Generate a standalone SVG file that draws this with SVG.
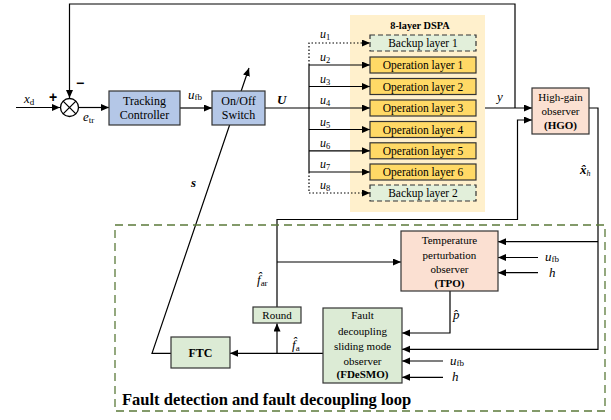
<svg xmlns="http://www.w3.org/2000/svg" width="611" height="420" viewBox="0 0 611 420">
<defs>
<marker id="ah" markerUnits="userSpaceOnUse" markerWidth="9" markerHeight="8" refX="8" refY="3.5" orient="auto">
<path d="M0,0 L8,3.5 L0,7 z" fill="#000"/>
</marker>
</defs>
<style>
.ln{fill:none;stroke:#000;stroke-width:1.2}
.ar{marker-end:url(#ah)}
.dot{stroke-dasharray:1.5,2}
.box{stroke:#333;stroke-width:1.2}
.blue{fill:#B4C7E7}
.gold{fill:#FFD966}
.bk{fill:#E2EFDA;stroke-dasharray:5,3}
.peach{fill:#FBE0D2}
.grn{fill:#DCEBD5}
text{font-family:"Liberation Serif","Times New Roman",serif;fill:#000}
.t{font-size:12px;text-anchor:middle}
.s{font-size:11px;text-anchor:middle}
.b{font-weight:bold}
.i{font-style:italic;font-size:13px}
.sub{font-size:9px;font-style:normal}
.u{font-style:italic;font-size:12px}
.us{font-size:8.5px;font-style:normal}
.sym{font-family:"Liberation Sans",Arial,sans-serif;font-weight:bold;font-size:14px}
</style>

<g id="dspa">
<rect x="350" y="15" width="135" height="197" fill="#FFF0CC"/>
<text x="420" y="28.5" class="b" style="font-size:10.3px;text-anchor:middle">8-layer DSPA</text>
</g>

<g id="connectors">
<path class="ln ar" d="M16,107.5 H60"/>
<path class="ln ar" d="M515,108 V4 H69.5 V98"/>
<path class="ln ar" d="M78.5,107.5 H109"/>
<path class="ln ar" d="M180,108 H212"/>
<path class="ln" d="M265,108 H309"/>
<path class="ln" d="M309,65 V172"/>
<path class="ln ar dot" d="M309,65 V43 H370"/>
<path class="ln ar dot" d="M309,172 V193 H370"/>
<path class="ln ar" d="M309,65 H370"/>
<path class="ln ar" d="M309,86.5 H370"/>
<path class="ln ar" d="M309,108 H370"/>
<path class="ln ar" d="M309,129.5 H370"/>
<path class="ln ar" d="M309,150.8 H370"/>
<path class="ln ar" d="M309,172 H370"/>
<path class="ln ar" d="M485,108 H532"/>
<path class="ln ar" d="M277,307 V219.5 H517.5 V120 H532"/>
<path class="ln ar" d="M277,262 H401"/>
<path class="ln ar" d="M589,108 H598 V349.3 H402"/>
<path class="ln ar" d="M598,241.7 H498"/>
<path class="ln ar" d="M538,257.5 H498"/>
<path class="ln ar" d="M538,272.7 H498"/>
<path class="ln ar" d="M450,291 V333 H402"/>
<path class="ln ar" d="M443,361 H402"/>
<path class="ln ar" d="M443,377.3 H402"/>
<path class="ln ar" d="M323,353.3 H230"/>
<path class="ln ar" d="M277,353.3 V323.5"/>
<path class="ln ar" d="M171,353.3 H152 L249,68"/>
</g>

<g id="sum">
<circle cx="69.5" cy="107.5" r="9" fill="#fff" stroke="#000" stroke-width="1.3"/>
<path d="M63.1,101.1 L75.9,113.9 M75.9,101.1 L63.1,113.9" stroke="#000" stroke-width="1.3"/>
<text x="49" y="102" class="sym">+</text>
<text x="76" y="88" class="sym">−</text>
</g>

<g id="tracking">
<rect x="109" y="91" width="71" height="34" class="box blue"/>
<text x="144.5" y="104.5" class="t">Tracking</text>
<text x="144.5" y="119" class="t">Controller</text>
</g>

<g id="switch">
<rect x="212" y="91" width="53" height="34" class="box blue"/>
<text x="238.5" y="104.5" class="t">On/Off</text>
<text x="238.5" y="119" class="t">Switch</text>
</g>

<g id="layers">
<rect x="370" y="35" width="106" height="16" class="box bk"/>
<text x="423" y="47" class="t" style="font-size:11.5px">Backup layer 1</text>
<rect x="370" y="57" width="106" height="16" class="box gold"/>
<text x="423" y="69" class="t" style="font-size:11.5px">Operation layer 1</text>
<rect x="370" y="78.5" width="106" height="16" class="box gold"/>
<text x="423" y="90.5" class="t" style="font-size:11.5px">Operation layer 2</text>
<rect x="370" y="100" width="106" height="16" class="box gold"/>
<text x="423" y="112" class="t" style="font-size:11.5px">Operation layer 3</text>
<rect x="370" y="121.5" width="106" height="16" class="box gold"/>
<text x="423" y="133.5" class="t" style="font-size:11.5px">Operation layer 4</text>
<rect x="370" y="142.8" width="106" height="16" class="box gold"/>
<text x="423" y="154.8" class="t" style="font-size:11.5px">Operation layer 5</text>
<rect x="370" y="164" width="106" height="16" class="box gold"/>
<text x="423" y="176" class="t" style="font-size:11.5px">Operation layer 6</text>
<rect x="370" y="185" width="106" height="16" class="box bk"/>
<text x="423" y="197" class="t" style="font-size:11.5px">Backup layer 2</text>
</g>

<g id="hgo">
<rect x="532" y="88" width="57" height="46" class="box peach"/>
<text x="560.5" y="100.5" class="s">High-gain</text>
<text x="560.5" y="115" class="s">observer</text>
<text x="560.5" y="129" class="s b">(HGO)</text>
</g>

<g id="loop">
<rect x="115" y="225" width="490" height="186" fill="none" stroke="#5B7A3A" stroke-width="1.3" stroke-dasharray="8,5"/>
<text x="122" y="405" class="b" style="font-size:16.5px">Fault detection and fault decoupling loop</text>
</g>

<g id="tpo">
<rect x="401" y="231" width="97" height="60" class="box peach"/>
<text x="449.5" y="244" class="s">Temperature</text>
<text x="449.5" y="258.5" class="s">perturbation</text>
<text x="449.5" y="273" class="s">observer</text>
<text x="449.5" y="287" class="s b">(TPO)</text>
</g>

<g id="fdesmo">
<rect x="323" y="308" width="79" height="75" class="box grn"/>
<text x="362.5" y="319" class="s">Fault</text>
<text x="362.5" y="335" class="s">decoupling</text>
<text x="362.5" y="350" class="s">sliding mode</text>
<text x="362.5" y="364.5" class="s">observer</text>
<text x="362.5" y="378" class="s b">(FDeSMO)</text>
</g>

<g id="round">
<rect x="253" y="307" width="48" height="16" class="box grn"/>
<text x="277" y="319" class="s">Round</text>
</g>

<g id="ftc">
<rect x="171" y="337" width="59" height="31" class="box grn"/>
<text x="200.5" y="357" class="t b">FTC</text>
</g>

<g id="labels">
<text x="24" y="103" class="i">x<tspan class="sub" dy="2">d</tspan></text>
<text x="83" y="121" class="i">e<tspan class="sub" dy="2">tr</tspan></text>
<text x="188" y="99" class="i">u<tspan class="sub" dy="1">fb</tspan></text>
<text x="277" y="104" class="i b">U</text>
<text x="320" y="38" class="u">u<tspan class="us" dy="2">1</tspan></text>
<text x="320" y="61" class="u">u<tspan class="us" dy="2">2</tspan></text>
<text x="320" y="82.5" class="u">u<tspan class="us" dy="2">3</tspan></text>
<text x="320" y="104" class="u">u<tspan class="us" dy="2">4</tspan></text>
<text x="320" y="125.5" class="u">u<tspan class="us" dy="2">5</tspan></text>
<text x="320" y="147" class="u">u<tspan class="us" dy="2">6</tspan></text>
<text x="320" y="168" class="u">u<tspan class="us" dy="2">7</tspan></text>
<text x="320" y="189" class="u">u<tspan class="us" dy="2">8</tspan></text>
<text x="497" y="101" class="i">y</text>
<text x="580" y="174" class="i b">x̂<tspan style="font-size:8px;font-weight:normal" dy="2">h</tspan></text>
<text x="191" y="187" class="i b">s</text>
<text x="257" y="284" class="i">f̂<tspan class="sub" dy="2">ar</tspan></text>
<text x="292" y="349" class="i">f̂<tspan class="sub" dy="2">a</tspan></text>
<text x="453" y="319" class="i">p̂</text>
<text x="545" y="261" class="i">u<tspan class="sub" dy="1">fb</tspan></text>
<text x="549" y="277" class="i">h</text>
<text x="450" y="365" class="i">u<tspan class="sub" dy="1">fb</tspan></text>
<text x="452" y="381" class="i">h</text>
</g>
</svg>
